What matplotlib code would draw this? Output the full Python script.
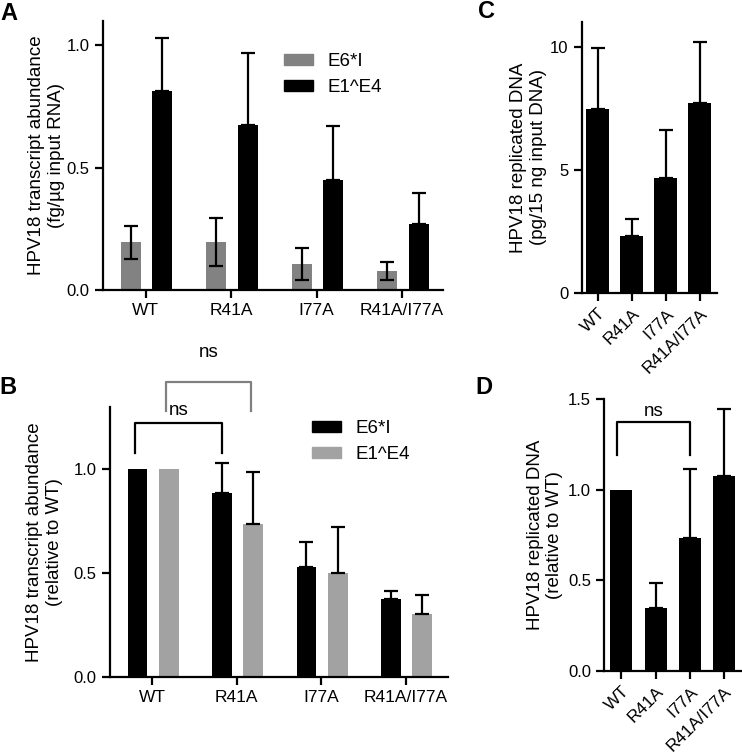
import matplotlib
matplotlib.use("Agg")
import matplotlib.pyplot as plt
import numpy as np
from matplotlib.patches import Patch

plt.rcParams["font.family"] = ["Liberation Sans", "DejaVu Sans"]
plt.rcParams["font.size"] = 13.5

# ---- data ----
mutants = ["WT", "R41A", "I77A", "R41A/I77A"]

# A: absolute transcript abundance (fg/ug input RNA)
a_e6i = [0.195, 0.197, 0.106, 0.078]
a_e6i_err = [0.068, 0.098, 0.065, 0.036]
a_e1e4 = [0.813, 0.673, 0.449, 0.271]
a_e1e4_err = [0.214, 0.293, 0.220, 0.126]

# B: transcript abundance relative to WT
b_e6i = [1.0, 0.883, 0.527, 0.373]
b_e6i_err = [0.0, 0.144, 0.122, 0.040]
b_e1e4 = [1.0, 0.734, 0.498, 0.301]
b_e1e4_err = [0.0, 0.253, 0.225, 0.095]

# C: replicated DNA (pg/15 ng input DNA)
c_dna = [7.48, 2.30, 4.67, 7.70]
c_dna_err = [2.48, 0.70, 1.96, 2.50]

# D: replicated DNA relative to WT
d_dna = [1.0, 0.345, 0.731, 1.077]
d_dna_err = [0.0, 0.138, 0.385, 0.369]

GRAY_A = "#828282"
GRAY_B = "#a2a2a2"

W, H = 742, 755
fig = plt.figure(figsize=(W / 100, H / 100), dpi=100)


def axes_px(left, right, bottom, top):
    return fig.add_axes([left / W, 1 - bottom / H, (right - left) / W, (bottom - top) / H])


def style(ax):
    for s in ["top", "right"]:
        ax.spines[s].set_visible(False)
    for s in ["left", "bottom"]:
        ax.spines[s].set_linewidth(1.6)
    ax.tick_params(direction="out", length=6, width=1.6)
    ax.tick_params(axis="x", labelsize=12.5)
    ax.tick_params(axis="y", labelsize=12)


def up_err(ax, x, y, err):
    ax.errorbar(x, y, yerr=[np.zeros(len(err)), err], fmt="none", ecolor="black",
                elinewidth=1.6, capsize=5, capthick=1.6, zorder=3)


def bracket(ax, x0, x1, ybar, yleg, color, label, ylab):
    ax.plot([x0, x0, x1, x1], [yleg, ybar, ybar, yleg], color=color, lw=1.6, clip_on=False)
    ax.text((x0 + x1) / 2, ylab, label, ha="center", va="center", fontsize=13.5, clip_on=False)


x = np.arange(len(mutants))
bw = 0.235
off_l, off_r = -0.175, 0.195

# ---- A ----
axA = axes_px(103, 443, 290, 20.5)
style(axA)
axA.bar(x + off_l, a_e6i, bw, color=GRAY_A, label="E6*I")
axA.bar(x + off_r, a_e1e4, bw, color="black", label="E1^E4")
axA.errorbar(x + off_l, a_e6i, yerr=a_e6i_err, fmt="none", ecolor="black",
             elinewidth=1.6, capsize=5, capthick=1.6, zorder=3)
up_err(axA, x + off_r, a_e1e4, a_e1e4_err)
axA.set_xlim(-0.5, 3.48)
axA.set_ylim(0, 1.1)
axA.set_yticks([0.0, 0.5, 1.0])
axA.set_yticklabels(["0.0", "0.5", "1.0"])
axA.set_xticks(x)
axA.set_xticklabels(mutants)
axA.set_ylabel("HPV18 transcript abundance\n(fg/µg input RNA)", fontsize=13.5)
axA.yaxis.set_label_coords(-0.112, 0.5)
axA.legend(handles=[Patch(color=GRAY_A, label="E6*I"), Patch(color="black", label="E1^E4")],
           loc="upper left", bbox_to_anchor=(284 / W, 1 - 53 / H), bbox_transform=fig.transFigure,
           frameon=False, fontsize=13.5, handlelength=1.55, handleheight=0.53,
           handletextpad=0.75, labelspacing=0.5, borderpad=0, borderaxespad=0)

# ---- B ----
axB = axes_px(110, 448, 677, 406.6)
style(axB)
axB.bar(x + off_l, b_e6i, bw, color="black")
axB.bar(x + off_r, b_e1e4, bw, color=GRAY_B)
up_err(axB, (x + off_l)[1:], b_e6i[1:], b_e6i_err[1:])
up_err(axB, (x + off_r)[1:], b_e1e4[1:], b_e1e4_err[1:])
axB.set_xlim(-0.5, 3.5)
axB.set_ylim(0, 1.3)
axB.set_yticks([0.0, 0.5, 1.0])
axB.set_yticklabels(["0.0", "0.5", "1.0"])
axB.set_xticks(x)
axB.set_xticklabels(mutants)
axB.set_ylabel("HPV18 transcript abundance\n(relative to WT)", fontsize=13.5)
axB.yaxis.set_label_coords(-0.139, 0.5)
bracket(axB, x[0] + off_l - 0.03, x[1] + off_l, 1.223, 1.077, "black", "ns", 1.28)
bracket(axB, x[0] + off_r - 0.03, x[1] + off_r - 0.03, 1.42, 1.28, "#808080", "ns", 1.56)
axB.legend(handles=[Patch(color="black", label="E6*I"), Patch(color=GRAY_B, label="E1^E4")],
           loc="upper left", bbox_to_anchor=(312 / W, 1 - 420 / H), bbox_transform=fig.transFigure,
           frameon=False, fontsize=13.5, handlelength=1.55, handleheight=0.53,
           handletextpad=0.75, labelspacing=0.5, borderpad=0, borderaxespad=0)

# ---- C ----
axC = axes_px(581.7, 716.7, 292.7, 22)
style(axC)
axC.bar(x, c_dna, 0.68, color="black")
up_err(axC, x, c_dna, c_dna_err)
axC.set_xlim(-0.47, 3.5)
axC.set_ylim(0, 11)
axC.set_yticks([0, 5, 10])
axC.set_xticks(x)
axC.set_xticklabels(mutants, rotation=45, ha="right", rotation_mode="anchor")
axC.set_ylabel("HPV18 replicated DNA\n(pg/15 ng input DNA)", fontsize=13.5)
axC.yaxis.set_label_coords(-0.259, 0.5)

# ---- D ----
axD = axes_px(604.3, 741.2, 670.7, 399.3)
style(axD)
axD.bar(x, d_dna, 0.64, color="black")
up_err(axD, x[1:], d_dna[1:], d_dna_err[1:])
axD.set_xlim(-0.5, 3.5)
axD.set_ylim(0, 1.5)
axD.set_yticks([0.0, 0.5, 1.0, 1.5])
axD.set_yticklabels(["0.0", "0.5", "1.0", "1.5"])
axD.set_xticks(x)
axD.set_xticklabels(mutants, rotation=45, ha="right", rotation_mode="anchor")
axD.set_ylabel("HPV18 replicated DNA\n(relative to WT)", fontsize=13.5)
axD.yaxis.set_label_coords(-0.299, 0.5)
bracket(axD, -0.12, 2.0, 1.372, 1.19, "black", "ns", 1.43)

# panel letters
for letter, px, py in [("A", 9, 13), ("B", 8, 387), ("C", 487, 12), ("D", 484, 388)]:
    fig.text(px / W, 1 - py / H, letter, fontsize=17, fontweight="bold", ha="center", va="center")

fig.savefig("out.png", dpi=100)
